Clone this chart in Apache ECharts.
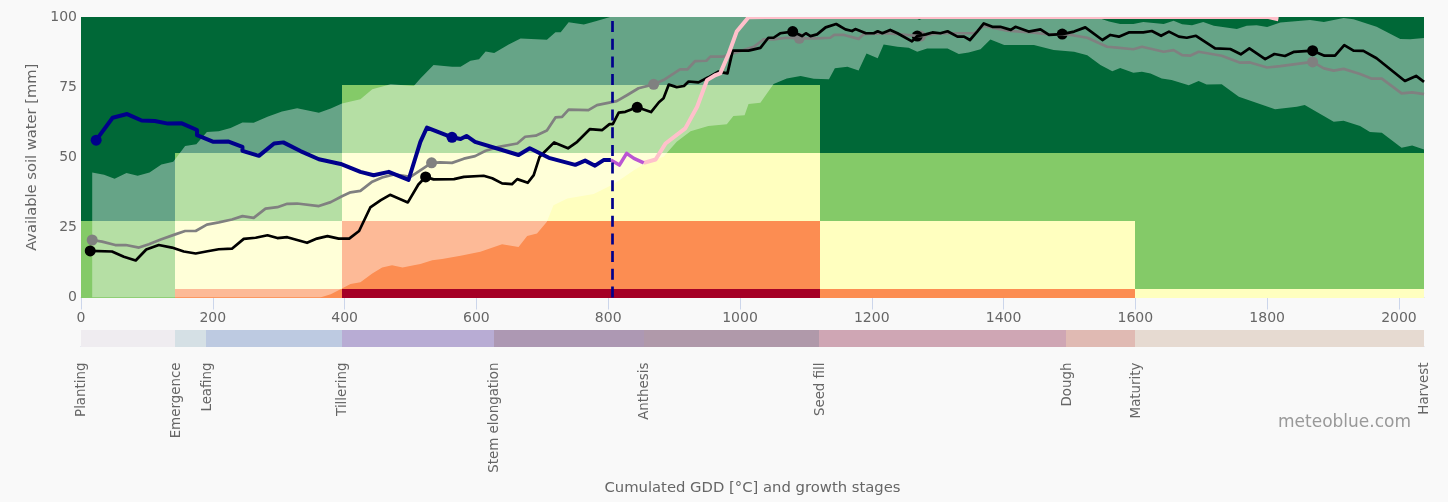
<!DOCTYPE html>
<html>
<head>
<meta charset="utf-8">
<script src="https://cdn.jsdelivr.net/npm/echarts@6/dist/echarts.min.js"></script>
<style>
html, body { margin: 0; padding: 0; background: #f9f9f9; }
#chart { width: 1448px; height: 502px; }
</style>
</head>
<body>
<div id="chart"></div>
<script>
// Soil water risk zones and season lines.
const xMax = 2038;
const xTicks = [0, 200, 400, 600, 800, 1000, 1200, 1400, 1600, 1800, 2000];
const yTicks = [0, 25, 50, 75, 100];

const stageNames = ["Planting", "Emergence", "Leafing", "Tillering", "Stem elongation", "Anthesis", "Seed fill", "Dough", "Maturity", "Harvest"];
const stageStarts = [0, 143, 190, 396, 626, 854, 1120, 1495, 1600, 2038];
const stageColors = ["#efecf0", "#d5e0e5", "#bdcae1", "#b8acd4", "#ad98b3", "#b099aa", "#cfa6b4", "#e0bab3", "#e6dad1"];

const zoneColumns = [0, 143, 396, 1121, 1600, 2038];
const zoneLevels = [0, 3, 27.2, 51.5, 75.7, 100];
// rows run bottom to top, one row per stage column
const zoneRows = [
    ["green", "green", "dark", "dark", "dark"],
    ["orange", "yellow", "green", "dark", "dark"],
    ["red", "orange", "yellow", "green", "dark"],
    ["orange", "yellow", "green", "dark", "dark"],
    ["yellow", "green", "green", "dark", "dark"]
];
const zoneColors = { dark: "#006837", green: "#84ca68", yellow: "#ffffbf", orange: "#fc8d52", red: "#a50026" };

const rangeUpper = [[17,44.6],[35,43.8],[51,42.3],[69,44.4],[86,43.4],[104,44.6],[122,47.4],[140,48.4],[158,54],[175,54.6],[191,59],[209,59.3],[227,60.4],[245,62.4],[262,62.3],[283,64.4],[305,66.3],[328,67.5],[361,65.9],[379,67.4],[396,69.2],[424,70.7],[442,74.2],[470,76],[505,75.4],[515,78.1],[535,82.9],[563,82.3],[576,82.3],[591,84.4],[604,84.9],[614,87.7],[627,87.2],[649,90.2],[667,92.3],[707,91.9],[720,94.6],[728,94.6],[740,98.1],[763,97.3],[781,98.5],[803,100],[1236,100],[1244,99.4],[1264,100],[1272,98.9],[1282,100],[1440,100],[1449,99.5],[1457,100],[1512,100],[1520,99.6],[1530,100],[1542,99.8],[1560,98.4],[1577,97.5],[1597,97.5],[1612,98.2],[1643,97.5],[1658,98.7],[1671,97.4],[1686,97.1],[1703,98.2],[1719,96.9],[1754,95.7],[1769,96.9],[1784,97.1],[1800,96.4],[1820,98],[1865,98.9],[1886,98.2],[1916,99.6],[1931,99.2],[1966,96.5],[2002,92.2],[2017,92.1],[2038,92.5]];
const rangeLower = [[17,0],[363,0],[379,1.2],[396,3.2],[409,4.8],[424,5.4],[442,8.6],[457,10.7],[472,11.5],[488,10.7],[505,11.5],[515,11.9],[533,13.3],[548,13.7],[576,14.9],[606,16.3],[639,19],[664,18],[677,21.9],[692,22.8],[707,27],[717,32.9],[738,35.3],[778,36.9],[808,40.4],[839,45.4],[859,48.2],[884,50.2],[904,55.5],[925,59.3],[952,61.1],[980,61.8],[990,64.7],[1007,65],[1013,69],[1031,69.4],[1051,76.1],[1071,78.1],[1092,79],[1112,78],[1135,77.8],[1144,81.7],[1163,82.3],[1180,80.9],[1192,87],[1209,85.3],[1218,90.2],[1239,89.4],[1256,89],[1269,87.6],[1284,88.8],[1315,88.8],[1332,86.8],[1347,87.3],[1365,88.5],[1380,92],[1401,90],[1446,90],[1476,88.2],[1507,87.6],[1527,86.4],[1547,82.9],[1565,80.7],[1577,81.8],[1597,80.1],[1610,80.5],[1623,79.9],[1640,78.1],[1655,77.5],[1681,75.7],[1696,77.2],[1708,75.9],[1731,76],[1757,71.6],[1779,69.8],[1812,67.1],[1845,68],[1857,68.6],[1901,62.7],[1916,63],[1941,61.1],[1956,59],[1974,58.7],[2004,53.4],[2020,54.2],[2038,52.8]];

const blackLine = [[14,16.6],[47,16.4],[65,14.5],[83,13.2],[99,17.1],[118,18.7],[138,17.8],[156,16.4],[174,15.7],[192,16.5],[209,17.2],[229,17.4],[247,20.9],[265,21.3],[283,22.2],[298,21.2],[313,21.5],[343,19.5],[358,21],[374,21.9],[391,21],[407,21],[422,23.7],[439,32.1],[455,34.7],[469,36.6],[496,33.9],[512,40.3],[523,43],[535,42.1],[566,42.2],[581,43],[611,43.4],[624,42.5],[639,40.7],[654,40.4],[662,42.2],[678,40.9],[687,43.6],[696,50.2],[718,55.3],[739,53.2],[753,55.5],[772,60],[791,59.7],[802,61.8],[807,61.8],[816,65.9],[826,66.2],[844,67.8],[865,66.1],[877,69.6],[884,71],[892,75.9],[904,75],[915,75.4],[922,77],[937,76.7],[952,78.5],[967,80.5],[981,79.9],[989,88],[1013,88],[1031,89],[1043,92.6],[1051,92.6],[1061,94.2],[1080,94.8],[1094,93.2],[1100,94.2],[1107,93.2],[1117,93.8],[1130,96.3],[1146,97.5],[1160,95.6],[1170,95],[1175,95.7],[1191,94.2],[1203,94.2],[1209,94.9],[1216,94.2],[1228,95.4],[1239,94.2],[1261,91.3],[1269,93.2],[1282,93.8],[1292,94.5],[1304,94.2],[1315,94.9],[1330,93],[1340,93],[1349,91.8],[1360,94.8],[1370,97.7],[1383,96.5],[1395,96.5],[1411,95.4],[1418,96.5],[1438,94.8],[1456,95.6],[1469,93.6],[1489,93.9],[1507,94.8],[1524,96.3],[1550,91.8],[1562,93.6],[1575,93],[1590,94.5],[1612,94.5],[1625,95],[1639,93.3],[1651,94.8],[1666,93],[1678,92.6],[1692,93.3],[1721,88.8],[1744,88.6],[1760,86.7],[1773,88.8],[1797,85],[1811,86.8],[1827,86.1],[1841,87.6],[1869,88],[1887,86.2],[1903,86.2],[1917,90],[1931,88],[1946,87.9],[1966,85.3],[2009,77.2],[2026,79],[2038,76.9]];
const blackMarkers = [[14,16.6],[523,43],[844,67.8],[1080,94.8],[1269,93.2],[1489,93.9],[1869,88]];

const grayLine = [[17,20.5],[32,19.9],[52,18.7],[68,18.7],[88,17.8],[103,19],[121,20.7],[143,22.5],[158,23.7],[174,23.7],[191,26],[209,26.8],[229,27.8],[245,29],[262,28.4],[280,31.7],[298,32.2],[313,33.4],[328,33.5],[361,32.6],[379,34],[396,36.1],[409,37.5],[424,38],[442,41.3],[457,42.8],[475,43.9],[500,43],[532,48],[545,48.2],[563,48],[581,49.5],[598,50.4],[614,52.3],[634,53.7],[662,54.9],[674,57.3],[690,57.7],[707,59.5],[720,64.2],[730,64.4],[740,67],[770,66.8],[783,68.6],[813,70],[829,72.2],[846,74.6],[869,76],[884,77.5],[909,81.3],[920,81.3],[932,84.3],[949,84.4],[955,85.9],[975,85.9],[993,87.3],[1021,89.4],[1036,92],[1051,92],[1071,92.6],[1090,92.4],[1117,92.4],[1137,92.6],[1143,93.6],[1158,93.6],[1180,92.2],[1188,93.9],[1223,94.2],[1274,93.2],[1294,94],[1315,94.2],[1355,94.2],[1370,96.8],[1406,95.1],[1446,94.4],[1469,93.8],[1497,93.8],[1527,92.6],[1557,89.4],[1572,89.1],[1597,88.5],[1610,89.4],[1643,87.6],[1658,88.2],[1671,86.4],[1683,86.2],[1696,87.6],[1731,86.2],[1759,83.7],[1774,83.8],[1800,82],[1820,82.5],[1869,84],[1886,81.7],[1901,80.9],[1916,81.5],[1941,79.7],[1959,78],[1974,78],[2004,72.8],[2020,73.1],[2038,72.5]];
const grayMarkers = [[17,20.5],[532,48],[869,76],[1090,92.4],[1274,93.2],[1869,84]];

const blueLine = [[23,56.1],[48,64.1],[70,65.4],[92,63.1],[112,62.9],[132,62],[153,62.1],[176,59.7],[176,57.9],[201,55.5],[224,55.6],[245,53.7],[245,52.3],[270,50.5],[293,54.9],[307,55.3],[333,52.2],[361,49.3],[394,47.6],[424,44.8],[444,43.6],[467,44.8],[497,41.9],[515,55.5],[525,60.6],[563,57.1],[576,56.5],[585,57.6],[598,55.5],[664,50.8],[681,53.2],[710,49.8],[750,47.3],[765,48.8],[780,47],[793,49],[804,49]];
const blueMarkers = [[23,56.1],[563,57.1]];
const purpleLine = [[804,49],[817,47.2],[828,51.4],[839,49.6],[854,48]];
const pinkLine = [[854,48],[872,49.2],[887,54.9],[917,60.3],[935,68],[950,77.5],[963,79.3],[970,79.9],[983,87],[995,94.8],[1013,99.9],[1040,100],[1802,100],[1817,99.2]];
const todayGdd = 806.5;

const pageColor = "#f9f9f9";
const axisColor = "#ccd6eb";
const textColor = "#666666";
const fontFamily = "DejaVu Sans";

const zoneCells = [];
zoneRows.forEach((row, c) => row.forEach((name, r) => {
    zoneCells.push([zoneColumns[c], zoneColumns[c + 1], zoneLevels[r], zoneLevels[r + 1], zoneColors[name]]);
}));
const stageCells = stageColors.map((color, i) => [stageStarts[i], stageStarts[i + 1], color]);

// whole-pixel edges so neighbouring cells leave no seam
const cellRect = (a, b) => {
    const x0 = Math.round(a[0]), x1 = Math.round(b[0]), y0 = Math.round(a[1]), y1 = Math.round(b[1]);
    return { x: x0, y: y1, width: x1 - x0, height: y0 - y1 };
};

const lineSeries = (name, data, color, width) => ({
    name, type: "line", data, showSymbol: false, silent: true,
    lineStyle: { color, width, join: "round" }, itemStyle: { color }
});
const dotSeries = (name, data, color, size) => ({
    name, type: "scatter", data, symbolSize: size, silent: true, itemStyle: { color, opacity: 1 }
});

const chart = echarts.init(document.getElementById("chart"));
chart.setOption({
    animation: false,
    backgroundColor: pageColor,
    textStyle: { fontFamily },
    grid: [
        { left: 81, top: 17, width: 1343, height: 280.5 },
        { left: 81, top: 330, width: 1343, height: 16.5 }
    ],
    xAxis: [
        {
            gridIndex: 0, type: "value", min: 0, max: xMax,
            axisLine: { show: true, onZero: false, lineStyle: { color: axisColor } },
            axisTick: { show: true, length: 12, customValues: xTicks, lineStyle: { color: axisColor } },
            axisLabel: { customValues: xTicks, color: textColor, fontSize: 14, margin: 14, fontFamily, formatter: v => String(v) },
            splitLine: { show: false }
        },
        {
            gridIndex: 1, type: "value", min: 0, max: xMax,
            axisLine: { show: true, onZero: false, lineStyle: { color: axisColor, width: 1 } },
            axisTick: { show: false },
            axisLabel: { show: false },
            splitLine: { show: false },
            name: "Cumulated GDD [°C] and growth stages",
            nameLocation: "middle", nameGap: 134,
            nameTextStyle: { color: textColor, fontSize: 14.8, fontFamily }
        }
    ],
    yAxis: [
        {
            gridIndex: 0, type: "value", min: 0, max: 100,
            axisLine: { show: false }, axisTick: { show: false },
            axisLabel: { customValues: yTicks, color: textColor, fontSize: 14, margin: 4, fontFamily },
            splitLine: { show: false },
            name: "Available soil water [mm]",
            nameLocation: "middle", nameGap: 41,
            nameTextStyle: { color: textColor, fontSize: 14.7, fontFamily }
        },
        { gridIndex: 1, type: "value", min: 0, max: 1, show: false }
    ],
    graphic: [
        // the thick lines are clipped flush with the top of the plot
        { type: "rect", z: 100, shape: { x: 81, y: 10, width: 1343, height: 7 }, style: { fill: pageColor } },
        {
            type: "text", x: 1411, y: 423, z: 100,
            style: { text: "meteoblue.com", fill: "#999999", font: "17px 'DejaVu Sans'", align: "right", verticalAlign: "middle" }
        }
    ],
    series: [
        {
            name: "zones", type: "custom", data: zoneCells, silent: true,
            encode: { x: [0, 1], y: [2, 3] },
            renderItem: (params, api) => ({
                type: "rect",
                shape: cellRect(api.coord([api.value(0), api.value(2)]), api.coord([api.value(1), api.value(3)])),
                style: { fill: zoneCells[params.dataIndex][4] }
            })
        },
        {
            name: "range", type: "custom", data: [0], silent: true, clip: true,
            renderItem: (params, api) => ({
                type: "polygon",
                shape: { points: rangeUpper.concat(rangeLower.slice().reverse()).map(p => api.coord(p)) },
                style: { fill: "rgba(255,255,255,0.4)" }
            })
        },
        lineSeries("gray", grayLine, "#808080", 2.7),
        dotSeries("gray points", grayMarkers, "#808080", 11),
        lineSeries("black", blackLine, "#000000", 2.7),
        dotSeries("black points", blackMarkers, "#000000", 11),
        lineSeries("pink", pinkLine, "#ffc0cb", 4),
        lineSeries("purple", purpleLine, "#ba55d3", 3.5),
        lineSeries("blue", blueLine, "#00008b", 4),
        dotSeries("blue points", blueMarkers, "#00008b", 11),
        {
            name: "today", type: "line", data: [], silent: true,
            markLine: {
                silent: true, symbol: "none", animation: false, label: { show: false },
                lineStyle: { color: "#00008b", width: 2.7, type: [11, 6.7] },
                data: [{ xAxis: todayGdd }]
            }
        },
        {
            name: "stages", type: "custom", xAxisIndex: 1, yAxisIndex: 1, data: stageCells, silent: true,
            encode: { x: [0, 1] },
            renderItem: (params, api) => ({
                type: "rect",
                shape: cellRect(api.coord([api.value(0), 0]), api.coord([api.value(1), 1])),
                style: { fill: stageCells[params.dataIndex][2] }
            })
        },
        {
            name: "stage names", type: "custom", xAxisIndex: 1, yAxisIndex: 1, data: stageStarts, silent: true, clip: false,
            encode: { x: 0 },
            renderItem: (params, api) => ({
                type: "text",
                x: api.coord([api.value(0), 0])[0] + 1,
                y: api.coord([api.value(0), 0])[1] + 16,
                rotation: Math.PI / 2,
                style: {
                    text: stageNames[params.dataIndex], fill: textColor, font: "13.4px 'DejaVu Sans'",
                    align: "right", verticalAlign: "middle"
                }
            })
        }
    ]
});
</script>
</body>
</html>
